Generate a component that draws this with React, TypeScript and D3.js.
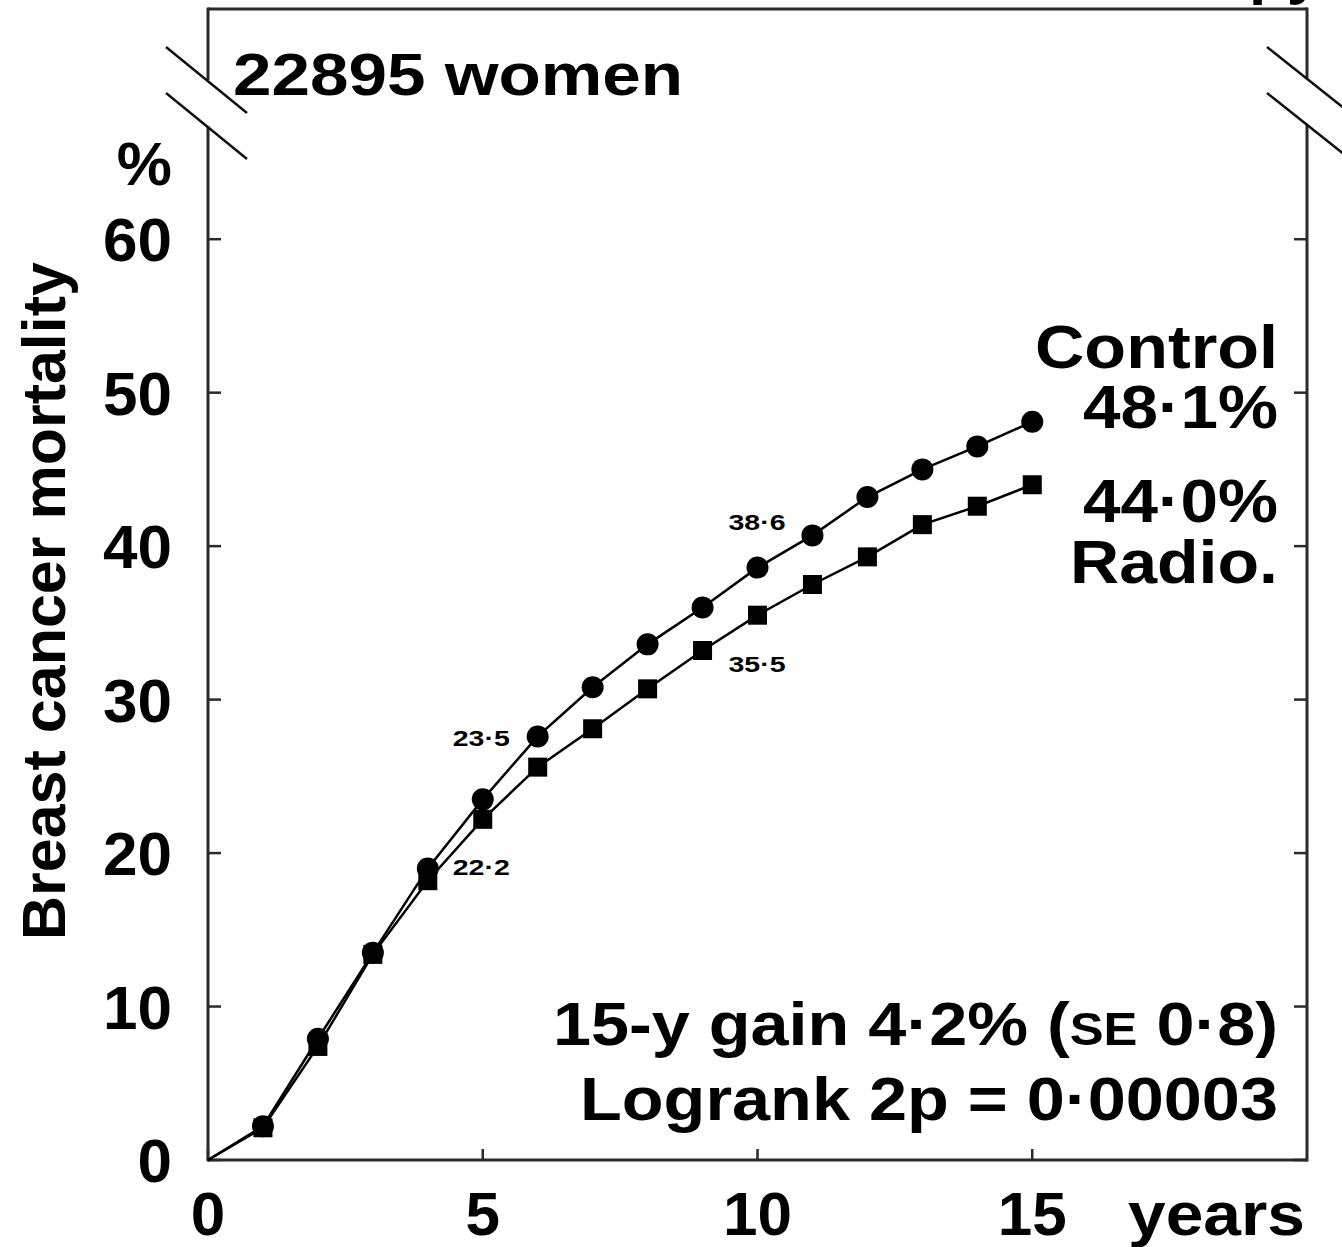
import React from "react";
import * as d3 from "d3";

const years = [0, 1, 2, 3, 4, 5, 6, 7, 8, 9, 10, 11, 12, 13, 14, 15];
const controlMortality = [0, 2.2, 7.9, 13.5, 19.0, 23.5, 27.6, 30.8, 33.6, 36.0, 38.6, 40.7, 43.2, 45.0, 46.5, 48.1];
const radioMortality = [0, 2.1, 7.4, 13.4, 18.2, 22.2, 25.6, 28.1, 30.7, 33.2, 35.5, 37.5, 39.3, 41.4, 42.6, 44.0];
const yTicks = [0, 10, 20, 30, 40, 50, 60];
const xTicks = [0, 5, 10, 15];

const W = 1342;
const H = 1247;
const FONT = "'Liberation Sans', Arial, Helvetica, sans-serif";

export default function App() {
  const x = d3.scaleLinear().domain([0, 20]).range([208, 1307]);
  const y = d3.scaleLinear().domain([0, 75]).range([1160, 9]);

  const ctrl = years.map((t, i) => [t, controlMortality[i]] as [number, number]);
  const radio = years.map((t, i) => [t, radioMortality[i]] as [number, number]);
  const line = d3
    .line<[number, number]>()
    .x((d) => x(d[0]))
    .y((d) => y(d[1]));

  const axisColor = "#2a2a2a";
  const left = x(0);
  const right = x(20);
  const top = y(75);
  const bottom = y(0);

  const annots = [
    { text: "23·5", px: x(5), py: y(controlMortality[5]), dx: 27, dy: -53, anchor: "end" },
    { text: "22·2", px: x(5), py: y(radioMortality[5]), dx: -30, dy: 56, anchor: "start" },
    { text: "38·6", px: x(10), py: y(controlMortality[10]), dx: 0, dy: -38, anchor: "middle" },
    { text: "35·5", px: x(10), py: y(radioMortality[10]), dx: 0, dy: 57, anchor: "middle" },
  ];

  return (
    <svg
      width={W}
      height={H}
      style={{ position: "absolute", left: 0, top: 0, background: "#fff" }}
      fontFamily={FONT}
      fontWeight="bold"
    >
      <rect width={W} height={H} fill="#fff" />
      {/* cut text at top right */}
      <text x={1249} y={-8} fontSize={62} fill="#000">py</text>

      {/* frame */}
      <line x1={left} x2={right} y1={top} y2={top} stroke={axisColor} strokeWidth={3} />
      <line x1={left} x2={right} y1={bottom} y2={bottom} stroke={axisColor} strokeWidth={3} />
      <line x1={left} x2={left} y1={top - 1.5} y2={80} stroke={axisColor} strokeWidth={3} />
      <line x1={left} x2={left} y1={126} y2={bottom + 1.5} stroke={axisColor} strokeWidth={3} />
      <line x1={right} x2={right} y1={top - 1.5} y2={78} stroke={axisColor} strokeWidth={3} />
      <line x1={right} x2={right} y1={125} y2={bottom + 1.5} stroke={axisColor} strokeWidth={3} />

      {/* break marks */}
      <line x1={166} y1={47} x2={247} y2={113} stroke="#111" strokeWidth={2.5} />
      <line x1={166} y1={93} x2={247} y2={159} stroke="#111" strokeWidth={2.5} />
      <line x1={1267} y1={47} x2={1345} y2={109} stroke="#111" strokeWidth={2.5} />
      <line x1={1267} y1={93} x2={1345} y2={155} stroke="#111" strokeWidth={2.5} />

      {/* ticks */}
      {yTicks.map((t) => (
        <g key={"yt" + t}>
          <line x1={left} x2={left + 13} y1={y(t)} y2={y(t)} stroke={axisColor} strokeWidth={2.5} />
          <line x1={right - 13} x2={right} y1={y(t)} y2={y(t)} stroke={axisColor} strokeWidth={2.5} />
          <text x={172} y={y(t) + 22} textAnchor="end" fontSize={62} fill="#000">
            {t}
          </text>
        </g>
      ))}
      {xTicks.map((t) => (
        <g key={"xt" + t}>
          <line x1={x(t)} x2={x(t)} y1={bottom} y2={bottom - 11} stroke={axisColor} strokeWidth={2.5} />
          <text x={x(t)} y={1235} textAnchor="middle" fontSize={62} fill="#000">
            {t}
          </text>
        </g>
      ))}
      <text x={1128} y={1235} fontSize={62} textLength={177} lengthAdjust="spacingAndGlyphs" fill="#000">
        years
      </text>
      <text x={172} y={185} textAnchor="end" fontSize={62} fill="#000">%</text>
      <text
        transform="translate(65,601) rotate(-90)"
        textAnchor="middle"
        fontSize={61}
        textLength={678}
        lengthAdjust="spacingAndGlyphs"
        fill="#000"
      >
        Breast cancer mortality
      </text>

      <text x={233} y={95} fontSize={60} textLength={450} lengthAdjust="spacingAndGlyphs" fill="#000">
        22895 women
      </text>

      {/* series */}
      <path d={line(ctrl) || ""} fill="none" stroke="#000" strokeWidth={2.5} />
      <path d={line(radio) || ""} fill="none" stroke="#000" strokeWidth={2.5} />
      {radio.slice(1).map((d, i) => (
        <rect key={"r" + i} x={x(d[0]) - 9.5} y={y(d[1]) - 9.5} width={19} height={19} fill="#000" />
      ))}
      {ctrl.slice(1).map((d, i) => (
        <circle key={"c" + i} cx={x(d[0])} cy={y(d[1])} r={11} fill="#000" />
      ))}

      {annots.map((a, i) => (
        <text
          key={"a" + i}
          x={a.px + a.dx - (a.anchor === "middle" ? 29 : a.anchor === "end" ? 57 : 0)}
          y={a.py + a.dy}
          fontSize={22}
          textLength={57}
          lengthAdjust="spacingAndGlyphs"
          fill="#000"
        >
          {a.text}
        </text>
      ))}

      {/* end labels */}
      <text x={1278 - 243} y={368} fontSize={62} textLength={243} lengthAdjust="spacingAndGlyphs" fill="#000">
        Control
      </text>
      <text x={1278 - 195} y={428} fontSize={62} textLength={195} lengthAdjust="spacingAndGlyphs" fill="#000">
        {`${controlMortality[15].toFixed(1).replace(".", "·")}%`}
      </text>
      <text x={1278 - 195} y={522} fontSize={62} textLength={195} lengthAdjust="spacingAndGlyphs" fill="#000">
        {`${radioMortality[15].toFixed(1).replace(".", "·")}%`}
      </text>
      <text x={1278 - 208} y={583} fontSize={62} textLength={208} lengthAdjust="spacingAndGlyphs" fill="#000">
        Radio.
      </text>

      <text x={553} y={1045} fontSize={62} textLength={725} lengthAdjust="spacingAndGlyphs" fill="#000">
        15-y gain 4·2% (<tspan fontSize={46}>SE</tspan> 0·8)
      </text>
      <text x={580} y={1120} fontSize={62} textLength={698} lengthAdjust="spacingAndGlyphs" fill="#000">
        Logrank 2p = 0·00003
      </text>
    </svg>
  );
}
